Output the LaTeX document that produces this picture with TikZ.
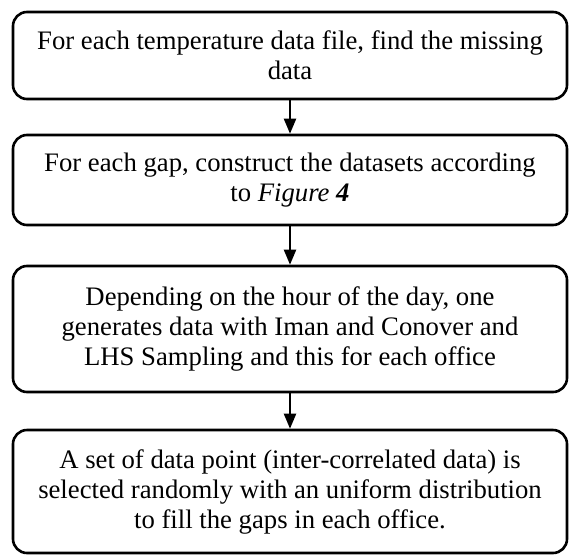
\documentclass[tikz,border=0pt]{standalone}
\usepackage{fontspec}
\setmainfont{Liberation Serif}
\usetikzlibrary{arrows.meta}
\begin{document}
\begin{tikzpicture}[x=1pt,y=-1pt,
  flowbox/.style={draw=black, line width=2.6pt, rounded corners=14pt,
    minimum width=554pt, align=center, inner sep=0pt,
    font=\fontsize{26.7}{30}\selectfont},
  flowarrow/.style={line width=2.2pt, -{Triangle[length=15pt,width=12pt]}}]
\useasboundingbox (0,0) rectangle (569,554);
\node[flowbox, minimum height=87pt] (b1) at (290,55.5)
  {For each temperature data file, find the missing\\data};
\node[flowbox, minimum height=90pt] (b2) at (290,180)
  {For each gap, construct the datasets according\\to \textit{Figure \textbf{4}}};
\node[flowbox, minimum height=126pt] (b3) at (290,329)
  {Depending on the hour of the day, one\\generates data with Iman and Conover and\\LHS Sampling and this for each office};
\node[flowbox, minimum height=123pt] (b4) at (290,491.5)
  {A set of data point (inter-correlated data) is\\selected randomly with an uniform distribution\\to fill the gaps in each office.};
\draw[flowarrow] (b1) -- (b2);
\draw[flowarrow] (b2) -- (b3);
\draw[flowarrow] (b3) -- (b4);
\end{tikzpicture}
\end{document}
